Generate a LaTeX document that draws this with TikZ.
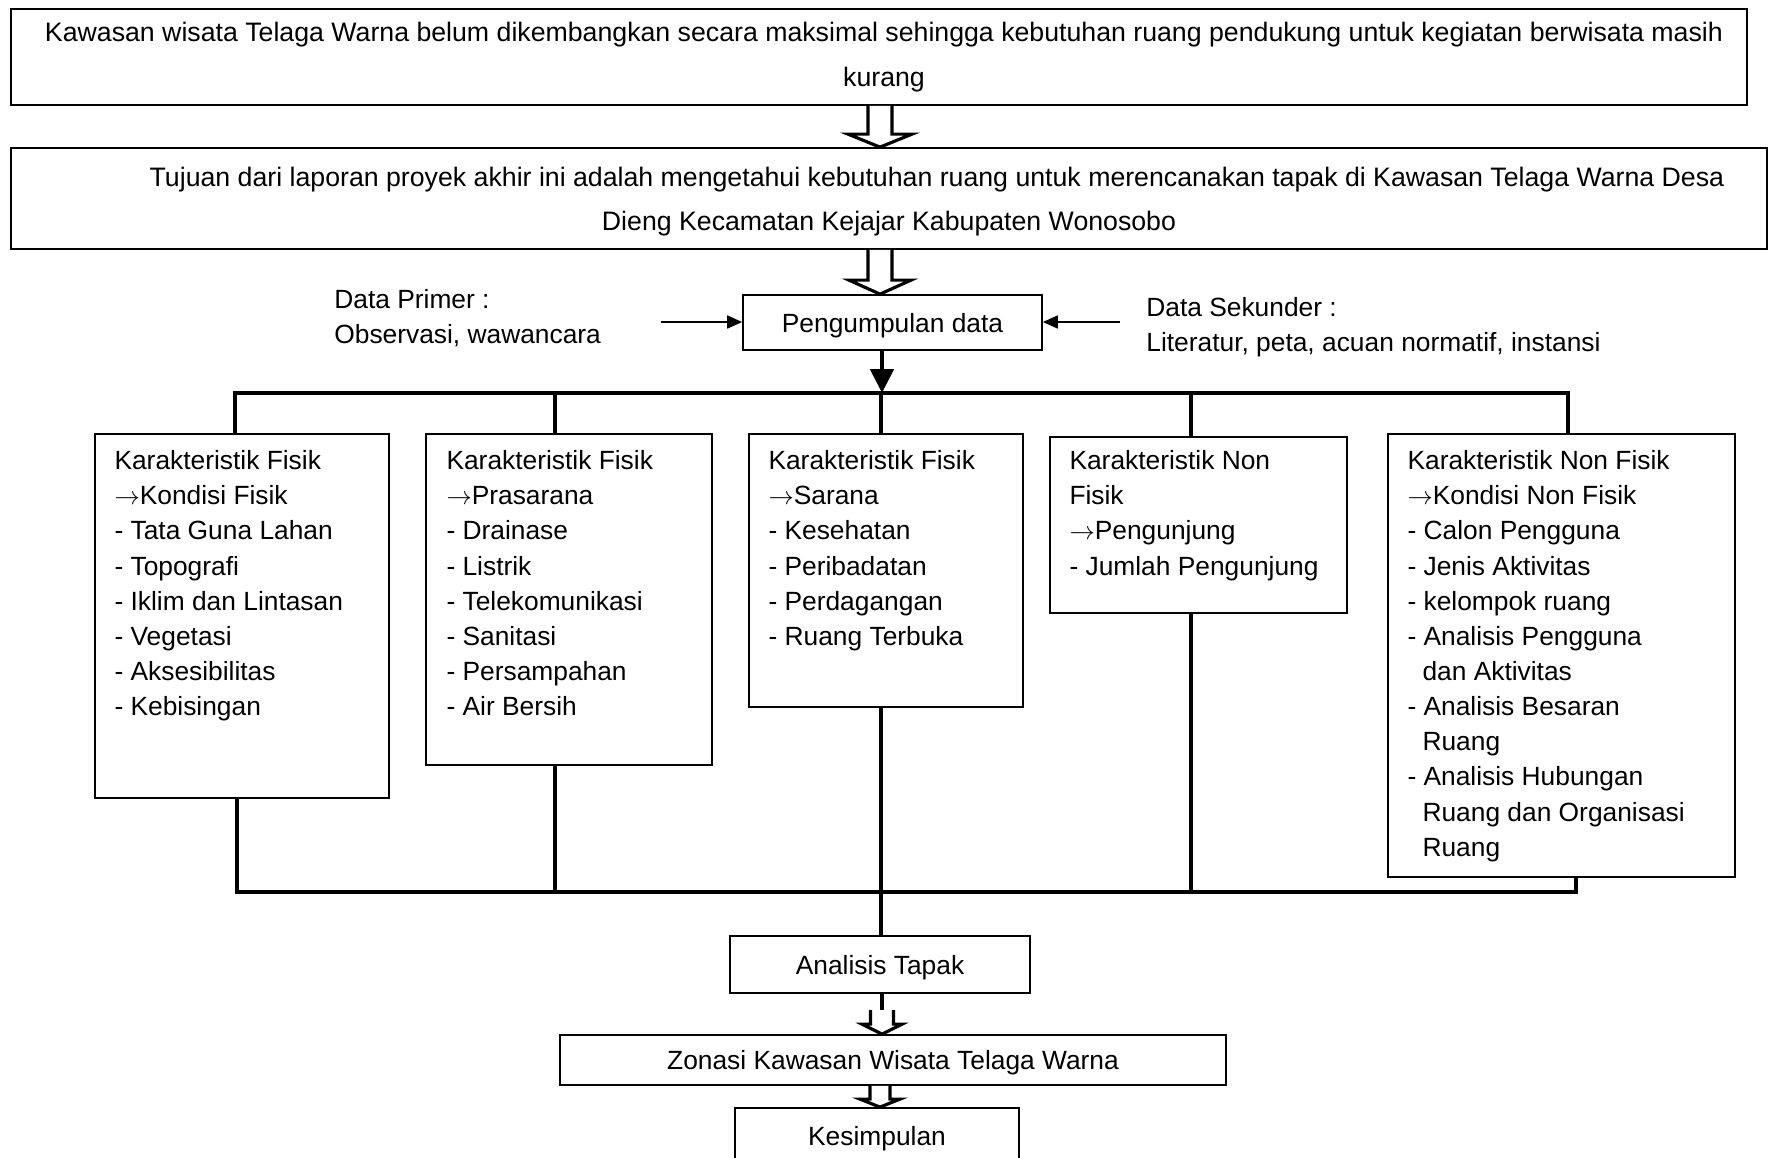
\documentclass[tikz,border=0pt]{standalone}
\usepackage{fontspec}
\setmainfont{Liberation Sans}
\usetikzlibrary{arrows.meta, calc}

\newcommand{\hollowarrow}[5]{%
  \draw[hollow] let \p1=#1, \p2=#2 in
    (\x1-#3,\y1) -- (\x1-#3,\y2+#5) -- (\x1-#4,\y2+#5) -- (\x1,\y2)
    -- (\x1+#4,\y2+#5) -- (\x1+#3,\y2+#5) -- (\x1+#3,\y1);}

\begin{document}
\begin{tikzpicture}[x=0.02cm, y=-0.02cm,
    every node/.style={font=\fontsize{15pt}{20pt}\selectfont},
    box/.style={draw, line width=1pt, inner sep=0pt, text depth=0pt},
    list/.style={anchor=north west, align=left, inner sep=0pt},
    bus/.style={line width=2.8pt},
    hollow/.style={draw, fill=white, line width=1.8pt, line join=miter},
    feed/.style={line width=1pt, -{Triangle[width=0.26cm, length=0.3cm]}}]
  \useasboundingbox (0,0) rectangle (1769,1157);

  \node[box, text depth=, minimum width=34.72cm, minimum height=1.92cm, align=center,
        font=\fontsize{15.2pt}{25.6pt}\selectfont] (masalah) at (879,57)
    {\hspace*{0.2cm}Kawasan wisata Telaga Warna belum dikembangkan secara maksimal sehingga kebutuhan ruang pendukung untuk kegiatan berwisata masih\\\hspace*{0.2cm}kurang};
  \node[box, minimum width=35.12cm, minimum height=2.02cm, align=center,
        font=\fontsize{15.2pt}{25pt}\selectfont] (tujuan) at (889,198.5)
    {\hspace*{1.92cm}Tujuan dari laporan proyek akhir ini adalah mengetahui kebutuhan ruang untuk merencanakan tapak di Kawasan Telaga Warna Desa\\Dieng Kecamatan Kejajar Kabupaten Wonosobo};
  \node[box, minimum width=5.98cm, minimum height=1.1cm] (kumpul) at (892.5,322.5) {Pengumpulan data};
  \node[list] (primer) at (334,289) {Data Primer :\\Observasi, wawancara};
  \node[list] (sekunder) at (1146,297) {Data Sekunder :\\Literatur, peta, acuan normatif, instansi};

  \node[box, minimum width=5.88cm, minimum height=7.28cm] (fisik) at (242,616) {};
  \node[box, minimum width=5.72cm, minimum height=6.62cm] (prasarana) at (569,599.5) {};
  \node[box, minimum width=5.48cm, minimum height=5.46cm] (sarana) at (886,570.5) {};
  \node[box, minimum width=5.94cm, minimum height=3.52cm] (pengunjung) at (1198.5,525) {};
  \node[box, minimum width=6.94cm, minimum height=8.86cm] (nonfisik) at (1561.5,655.5) {};

  \node[list] (tfisik) at ($(fisik.north west)+(20,17)$)
    {Karakteristik Fisik\\$\rightarrow$Kondisi Fisik\\- Tata Guna Lahan\\- Topografi\\- Iklim dan Lintasan\\- Vegetasi\\- Aksesibilitas\\- Kebisingan};
  \node[list] (tprasarana) at ($(prasarana.north west)+(21,17)$)
    {Karakteristik Fisik\\$\rightarrow$Prasarana\\- Drainase\\- Listrik\\- Telekomunikasi\\- Sanitasi\\- Persampahan\\- Air Bersih};
  \node[list] (tsarana) at ($(sarana.north west)+(20,17)$)
    {Karakteristik Fisik\\$\rightarrow$Sarana\\- Kesehatan\\- Peribadatan\\- Perdagangan\\- Ruang Terbuka};
  \node[list] (tpengunjung) at ($(pengunjung.north west)+(20,14)$)
    {Karakteristik Non\\Fisik\\$\rightarrow$Pengunjung\\- Jumlah Pengunjung};
  \node[list] (tnonfisik) at ($(nonfisik.north west)+(20,17)$)
    {Karakteristik Non Fisik\\$\rightarrow$Kondisi Non Fisik\\- Calon Pengguna\\- Jenis Aktivitas\\- kelompok ruang\\- Analisis Pengguna\\\hspace*{0.3cm}dan Aktivitas\\- Analisis Besaran\\\hspace*{0.3cm}Ruang\\- Analisis Hubungan\\\hspace*{0.3cm}Ruang dan Organisasi\\\hspace*{0.3cm}Ruang};

  \node[box, minimum width=6cm, minimum height=1.14cm] (analisis) at (880,964.5) {Analisis Tapak};
  \node[box, minimum width=13.32cm, minimum height=1cm] (zonasi) at (893,1060) {Zonasi Kawasan Wisata Telaga Warna};
  \node[box, minimum width=5.68cm, minimum height=1.12cm] (kesimpulan) at (877,1136) {Kesimpulan};

  \coordinate (axis) at (880,0);
  \coordinate (pin) at (661,322);
  \coordinate (sin) at (1120,322);
  \coordinate (stem) at (882,1010);

  \hollowarrow{(masalah.south -| axis)}{(tujuan.north -| axis)}{0.24cm}{0.64cm}{0.26cm}
  \hollowarrow{(tujuan.south -| axis)}{(kumpul.north -| axis)}{0.24cm}{0.62cm}{0.28cm}
  \draw[feed] (pin) -- (pin -| kumpul.west);
  \draw[feed] (sin) -- (sin -| kumpul.east);
  \draw[bus, -{Triangle[width=0.46cm, length=0.48cm]}] (kumpul.south -| 882,0) -- (882,393);

  \draw[bus] (fisik.north -| 235,0) -- (235,393) -- (1568,393) -- (nonfisik.north -| 1568,0);
  \foreach \x/\b in {555/prasarana, 881/sarana, 1191/pengunjung}
    \draw[bus] (\x,393) -- (\b.north -| \x,0);
  \draw[bus] (fisik.south -| 237,0) -- (237,892) -- (1576,892) -- (nonfisik.south -| 1576,0);
  \foreach \x/\b in {555/prasarana, 881/sarana, 1191/pengunjung}
    \draw[bus] (\b.south -| \x,0) -- (\x,892);
  \draw[bus] (881,892) -- (analisis.north -| 881,0);

  \draw[bus] (analisis.south -| stem) -- (stem);
  \hollowarrow{(stem)}{(zonasi.north -| axis)}{0.23cm}{0.4cm}{0.2cm}
  \hollowarrow{(zonasi.south -| axis)}{(kesimpulan.north -| axis)}{0.2cm}{0.4cm}{0.16cm}
\end{tikzpicture}
\end{document}
